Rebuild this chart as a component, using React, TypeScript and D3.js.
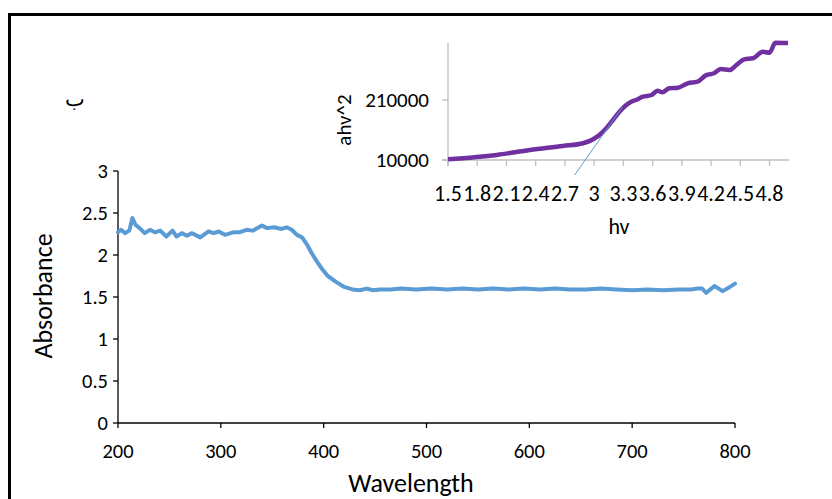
import React from "react";
import * as d3 from "d3";

const wavelength = [200,203,207,211,214,217,221,226,231,236,241,247,253,257,262,267,272,280,288,293,298,304,312,318,325,331,340,345,352,359,364,369,374,379,384,388,393,398,404,412,420,428,435,442,448,455,465,475,490,505,520,535,550,565,580,595,610,625,640,655,670,685,700,715,730,745,757,764,768,772,780,788,795,800];
const absorbance = [2.27,2.30,2.26,2.29,2.44,2.36,2.32,2.26,2.30,2.27,2.29,2.22,2.29,2.22,2.26,2.23,2.26,2.21,2.28,2.26,2.28,2.24,2.27,2.27,2.30,2.29,2.35,2.32,2.33,2.31,2.33,2.30,2.24,2.21,2.12,2.03,1.93,1.84,1.75,1.68,1.62,1.59,1.58,1.60,1.58,1.59,1.59,1.60,1.59,1.60,1.59,1.60,1.59,1.60,1.59,1.60,1.59,1.60,1.59,1.59,1.60,1.59,1.58,1.59,1.58,1.59,1.59,1.60,1.60,1.55,1.63,1.57,1.62,1.66];
const xTicks = [200,300,400,500,600,700,800];
const yTicks = [0,0.5,1,1.5,2,2.5,3];

const hv = [1.5,2.0,2.34,2.68,2.885,2.99,3.09,3.18,3.26,3.38,3.43,3.5,3.59,3.65,3.7,3.77,3.86,3.96,4.06,4.15,4.23,4.3,4.39,4.46,4.54,4.63,4.73,4.8,4.86,4.99];
const ahv2 = [12300,26700,43300,56700,65700,79000,104000,137700,171000,204000,210000,221000,226700,241000,235700,249000,251000,265600,271000,293000,299000,313000,310000,326700,345600,349000,371000,367700,401000,400000];
const tangentHv = [2.8,3.29];
const tangentVal = [-40000,186700];
const insetXTicks = [1.5,1.8,2.1,2.4,2.7,3,3.3,3.6,3.9,4.2,4.5,4.8];
const insetYTicks = [10000,210000];

const FONT = "Carlito, Calibri, Lato, 'Open Sans', sans-serif";

export default function App() {
  const x = d3.scaleLinear().domain([200, 800]).range([118, 735]);
  const y = d3.scaleLinear().domain([0, 3]).range([423, 171]);
  const line = d3.line<number>().x((_, i) => x(wavelength[i])).y((d) => y(d));

  const ix = d3.scaleLinear().domain([1.5, 5.0]).range([448, 789]);
  const iy = d3.scaleLinear().domain([10000, 400000]).range([160, 43]);
  const iline = d3.line<number>().x((_, i) => ix(hv[i])).y((d) => iy(d)).curve(d3.curveMonotoneX);
  const tline = d3.line<number>().x((_, i) => ix(tangentHv[i])).y((d) => iy(d));

  return (
    <svg width={832} height={499} style={{ position: "absolute", left: 0, top: 0, background: "#fff" }} fontFamily={FONT}>
      <rect x={0} y={0} width={832} height={499} fill="#fff" />
      {/* frame */}
      <path d="M9.5,520 L9.5,14.5 L840,14.5" fill="none" stroke="#000" strokeWidth={3} />
      <text x={75} y={106} fontSize={21} textAnchor="middle" fill="#000">ب</text>

      {/* main axes */}
      <line x1={118} x2={118} y1={171} y2={423} stroke="#000" strokeWidth={1.3} />
      <line x1={118} x2={735} y1={423} y2={423} stroke="#000" strokeWidth={1.3} />
      {yTicks.map((t) => (
        <g key={"y" + t}>
          <line x1={113} x2={118} y1={y(t)} y2={y(t)} stroke="#000" strokeWidth={1.3} />
          <text x={108} y={y(t) + 7} fontSize={20.5} textAnchor="end" fill="#000">{t}</text>
        </g>
      ))}
      {xTicks.map((t) => (
        <g key={"x" + t}>
          <line x1={x(t)} x2={x(t)} y1={423} y2={428} stroke="#000" strokeWidth={1.3} />
          <text x={x(t)} y={458} fontSize={20.5} textAnchor="middle" fill="#000">{t}</text>
        </g>
      ))}
      <text x={411} y={492} fontSize={26} textAnchor="middle" fill="#000">Wavelength</text>
      <text transform="translate(52,296) rotate(-90)" fontSize={26} textAnchor="middle" fill="#000">Absorbance</text>
      <path d={line(absorbance) || ""} fill="none" stroke="#5B9BD5" strokeWidth={4} strokeLinejoin="round" strokeLinecap="round" />

      {/* inset */}
      <line x1={448} x2={448} y1={43} y2={166} stroke="#BFBFBF" strokeWidth={1.3} />
      <line x1={442} x2={789} y1={160} y2={160} stroke="#BFBFBF" strokeWidth={1.3} />
      {insetYTicks.map((t) => (
        <g key={"iy" + t}>
          <line x1={442} x2={448} y1={iy(t)} y2={iy(t)} stroke="#BFBFBF" strokeWidth={1.3} />
          <text x={429} y={iy(t) + 7} fontSize={21} textAnchor="end" fill="#000">{t}</text>
        </g>
      ))}
      {insetXTicks.map((t) => (
        <g key={"ix" + t}>
          <line x1={ix(t)} x2={ix(t)} y1={160} y2={166} stroke="#BFBFBF" strokeWidth={1.3} />
          <text x={ix(t)} y={201} fontSize={22} textAnchor="middle" fill="#000">{t}</text>
        </g>
      ))}
      <text x={619} y={234} fontSize={22} textAnchor="middle" fill="#000">hv</text>
      <text transform="translate(351,120) rotate(-90)" fontSize={21} textAnchor="middle" fill="#000">ahv^2</text>
      <path d={iline(ahv2) || ""} fill="none" stroke="#7030A0" strokeWidth={4.5} strokeLinejoin="round" />
      <path d={tline(tangentVal) || ""} fill="none" stroke="#5B9BD5" strokeWidth={1} />
    </svg>
  );
}
